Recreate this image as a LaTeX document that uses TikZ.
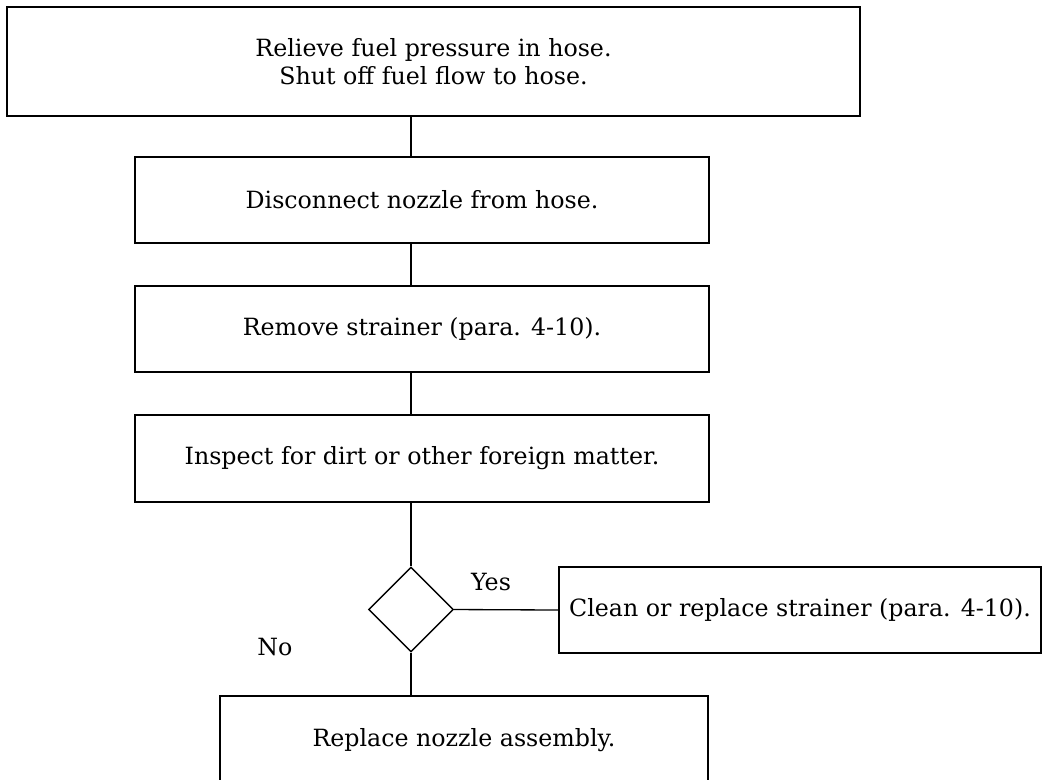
\documentclass[tikz,border=0pt]{standalone}
\usepackage{fontspec}
\setmainfont{DejaVu Serif}
\usetikzlibrary{shapes.geometric,positioning}

\begin{document}
\begin{tikzpicture}[x=0.02cm,y=-0.02cm,
  every node/.style={font=\fontsize{13.5}{16}\selectfont},
  stepbox/.style={draw,line width=1.1pt,minimum width=11.48cm,
    minimum height=1.72cm,inner sep=0pt,align=center},
  decision/.style={draw,diamond,line width=0.8pt,minimum width=1.7cm,
    minimum height=1.7cm,inner sep=0pt},
  link/.style={line width=0.75pt}]

  \useasboundingbox (0,0) rectangle (1043,779);

  % ── main column ───────────────────────────────────────
  \node[stepbox,minimum width=17.06cm,minimum height=2.18cm] (relieve) at (433.5,61.5)
    {Relieve fuel pressure in hose.\\Shut off fuel flow to hose.};
  \node[stepbox] (disconnect) at (422,200)
    {Disconnect nozzle from hose.};
  \node[stepbox] (remove) at (422,329)
    {Remove strainer (para. 4-10).};
  \node[stepbox,minimum height=1.74cm] (inspect) at (422,458.5)
    {Inspect for dirt or other foreign matter.};

  % ── decision and its two outcomes ─────────────────────
  \node[decision] (check) at (411,609.5) {};
  \node[stepbox,minimum width=9.64cm] (clean) at (800,610)
    {Clean or replace strainer (para. 4-10).};
  \node[stepbox,minimum width=9.76cm,minimum height=1.78cm] (replace) at (464,740.5)
    {Replace nozzle assembly.};

  % connectors
  \draw[link] (check |- relieve.south) -- (check |- disconnect.north);
  \draw[link] (check |- disconnect.south) -- (check |- remove.north);
  \draw[link] (check |- remove.south) -- (check |- inspect.north);
  \draw[link] (check |- inspect.south) -- (check.north);
  \draw[link] (check.east) -- (clean.west);
  \draw[link] (check.south) -- (check |- replace.north);

  % branch labels
  \node (yes) at (491,582) {Yes};
  \node (no) at (275,647) {No};

\end{tikzpicture}
\end{document}
